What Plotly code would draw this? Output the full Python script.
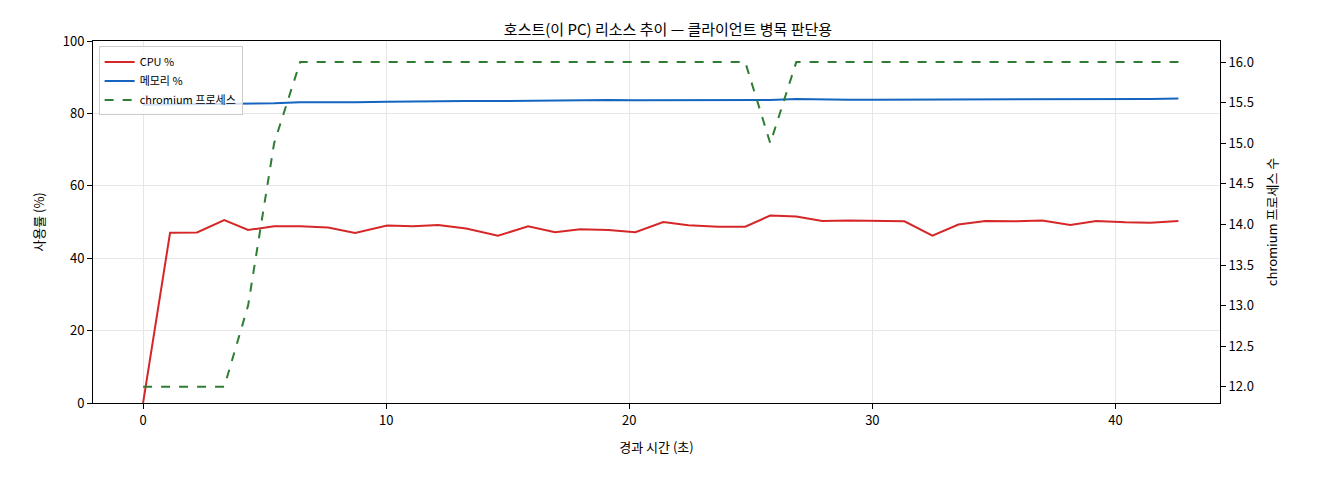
import plotly.graph_objects as go

# 경과 시간 (초)
t = [0.0, 1.11, 2.22, 3.34, 4.32, 5.39, 6.46, 7.61, 8.72, 10.04, 11.11, 12.14, 13.29,
     14.60, 15.84, 16.95, 17.98, 19.14, 20.25, 21.40, 22.43, 23.66, 24.77, 25.80,
     26.87, 27.94, 29.01, 30.12, 31.32, 32.47, 33.54, 34.65, 35.80, 36.99, 38.14,
     39.21, 40.41, 41.44, 42.59]
cpu = [0.0, 47.0, 47.1, 50.5, 47.8, 48.8, 48.8, 48.5, 47.0, 49.0, 48.8, 49.2, 48.2,
       46.2, 48.8, 47.2, 48.0, 47.8, 47.2, 50.0, 49.1, 48.7, 48.7, 51.8, 51.5, 50.3,
       50.4, 50.4, 50.2, 46.2, 49.3, 50.3, 50.2, 50.4, 49.2, 50.3, 49.9, 49.8, 50.3]
mem = [82.4, 82.5, 82.5, 82.6, 82.6, 82.8, 83.1, 83.2, 83.1, 83.2, 83.3, 83.4, 83.4,
       83.4, 83.5, 83.5, 83.6, 83.7, 83.6, 83.6, 83.6, 83.6, 83.6, 83.7, 84.0, 83.8,
       83.8, 83.8, 83.8, 83.8, 83.8, 83.8, 83.8, 83.8, 83.9, 83.9, 83.9, 84.0, 84.1]
procs = [12, 12, 12, 12, 13, 15, 16, 16, 16, 16, 16, 16, 16, 16, 16, 16, 16, 16, 16,
         16, 16, 16, 16, 15, 16, 16, 16, 16, 16, 16, 16, 16, 16, 16, 16, 16, 16, 16, 16]

font = "Noto Sans CJK KR"
fig = go.Figure()
fig.add_trace(go.Scatter(x=t, y=cpu, name="CPU %", mode="lines",
                         line=dict(color="#d62728", width=2)))
fig.add_trace(go.Scatter(x=t, y=mem, name="메모리 %", mode="lines",
                         line=dict(color="#1565c0", width=2)))
fig.add_trace(go.Scatter(x=t, y=procs, name="chromium 프로세스", mode="lines", yaxis="y2",
                         line=dict(color="#2e7d32", width=2, dash="dash")))

ax = dict(showline=True, linecolor="black", ticks="outside",
          tickcolor="black", gridcolor="#e6e6e6", zeroline=False,
          tickfont=dict(size=13, color="black"))
fig.update_layout(
    width=1320, height=480,
    font=dict(family=font, color="black"),
    paper_bgcolor="white", plot_bgcolor="white",
    title=dict(text="호스트(이 PC) 리소스 추이 — 클라이언트 병목 판단용", x=0.5,
               y=0.965, font=dict(size=15)),
    margin=dict(l=85, r=108, t=33, b=85),
    xaxis=dict(ax, range=[-2.06, 44.3], dtick=10, mirror=True,
               title=dict(text="경과 시간 (초)", font=dict(size=13))),
    yaxis=dict(ax, range=[0, 100], dtick=20,
               title=dict(text="사용률 (%)", font=dict(size=13))),
    yaxis2=dict(ax, overlaying="y", side="right", range=[11.8, 16.26], dtick=0.5,
                tickformat=".1f", showgrid=False,
                title=dict(text="chromium 프로세스 수", font=dict(size=13))),
    legend=dict(x=0.005, y=0.985, xanchor="left", yanchor="top",
                bgcolor="rgba(255,255,255,0.8)", bordercolor="#cccccc", borderwidth=1,
                font=dict(size=11)),
    showlegend=True,
)
fig.write_html("out.html")
